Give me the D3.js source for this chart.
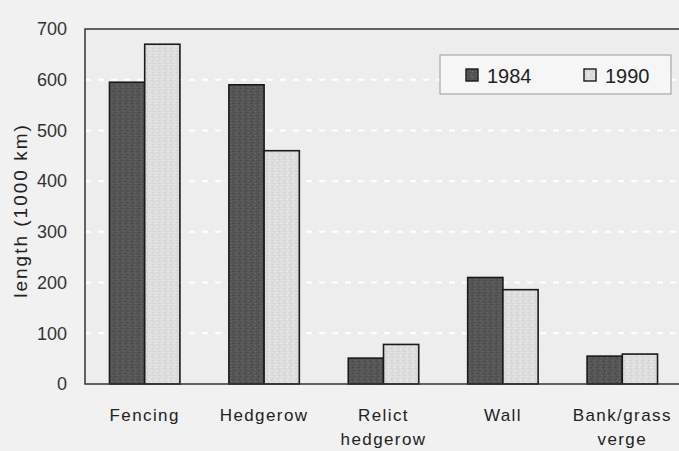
<!DOCTYPE html>
<html>
<head>
<meta charset="utf-8">
<script src="https://cdn.jsdelivr.net/npm/d3@7"></script>
<style>
  html, body { margin: 0; padding: 0; background: #f1f1f1; }
  svg { display: block; font-family: "Liberation Sans", Arial, sans-serif; }
</style>
</head>
<body>
<svg id="chart" width="679" height="451"></svg>
<script>
// Linear boundary lengths in Great Britain by feature type
const categories = [["Fencing"], ["Hedgerow"], ["Relict", "hedgerow"], ["Wall"], ["Bank/grass", "verge"]];
const seriesNames = ["1984", "1990"];
const values1984 = [595, 590, 51, 210, 55];
const values1990 = [670, 460, 78, 186, 59];
const yTicks = [0, 100, 200, 300, 400, 500, 600, 700];

const svg = d3.select("#chart");
const margin = { left: 85, right: -3, top: 29, bottom: 67 };
const W = 679, H = 451;
const innerW = W - margin.left - margin.right;
const innerH = H - margin.top - margin.bottom;

const fills = { "1984": "#555555", "1990": "#dedede" };

// speckled textures for the bar fills
const defs = svg.append("defs");
function speckle(id, base, dots) {
  const p = defs.append("pattern").attr("id", id).attr("patternUnits", "userSpaceOnUse")
    .attr("width", 6).attr("height", 6);
  p.append("rect").attr("width", 6).attr("height", 6).attr("fill", base);
  dots.forEach(([x, y, c]) => p.append("rect").attr("x", x).attr("y", y).attr("width", 1).attr("height", 1).attr("fill", c));
}
speckle("tex84", fills["1984"], [[1,1,"#6e6e6e"],[4,2,"#3e3e3e"],[2,4,"#707070"],[5,5,"#444"],[0,3,"#656565"]]);
speckle("tex90", fills["1990"], [[1,1,"#c4c4c4"],[4,2,"#f2f2f2"],[2,4,"#c8c8c8"],[5,5,"#ececec"],[0,3,"#cfcfcf"]]);

const g = svg.append("g").attr("transform", `translate(${margin.left},${margin.top})`);

const x0 = d3.scaleBand().domain(d3.range(categories.length)).range([0, innerW]).paddingInner(0.41).paddingOuter(0.205);
const x1 = d3.scaleBand().domain(seriesNames).range([0, x0.bandwidth()]);
const y = d3.scaleLinear().domain([0, 700]).range([innerH, 0]);

// plot background
g.append("rect").attr("width", innerW).attr("height", innerH).attr("fill", "#ededed");

// dashed white gridlines
g.append("g").selectAll("line").data(yTicks.filter(t => t > 0 && t < 700)).join("line")
  .attr("x1", 0).attr("x2", innerW)
  .attr("y1", d => y(d)).attr("y2", d => y(d))
  .attr("stroke", "#ffffff").attr("stroke-width", 2).attr("stroke-dasharray", "6,7");

// bars
const data = categories.map((c, i) => ({ i, vals: [values1984[i], values1990[i]] }));
const groups = g.append("g").selectAll("g").data(data).join("g")
  .attr("transform", d => `translate(${x0(d.i)},0)`);
groups.selectAll("rect").data(d => d.vals.map((v, k) => ({ key: seriesNames[k], v }))).join("rect")
  .attr("x", d => x1(d.key))
  .attr("y", d => y(d.v))
  .attr("width", x1.bandwidth())
  .attr("height", d => innerH - y(d.v))
  .attr("fill", d => d.key === "1984" ? "url(#tex84)" : "url(#tex90)")
  .attr("stroke", "#1a1a1a").attr("stroke-width", 1.6);

// frame
g.append("path")
  .attr("d", `M${innerW},0 H0 V${innerH} H${innerW}`)
  .attr("fill", "none").attr("stroke", "#333").attr("stroke-width", 1.5);

// y axis labels
const yAxis = d3.axisLeft(y).tickValues(yTicks).tickSize(0).tickPadding(18);
const ya = g.append("g").call(yAxis);
ya.select(".domain").remove();
ya.selectAll("text").attr("font-size", 18).attr("fill", "#333").attr("font-family", "Liberation Sans, Arial, sans-serif");

// y axis title
svg.append("text")
  .attr("transform", `translate(27,${margin.top + innerH / 2 + 4}) rotate(-90)`)
  .attr("text-anchor", "middle").attr("font-size", 19).attr("fill", "#222")
  .attr("letter-spacing", 2)
  .text("length (1000 km)");

// x category labels
const xl = svg.append("g").selectAll("text").data(categories).join("text")
  .attr("x", (d, i) => margin.left + x0(i) + x0.bandwidth() / 2)
  .attr("y", margin.top + innerH + 37)
  .attr("text-anchor", "middle").attr("font-size", 17).attr("fill", "#222")
  .attr("letter-spacing", 1.4);
xl.selectAll("tspan").data(d => d).join("tspan")
  .attr("x", function() { return this.parentNode.getAttribute("x"); })
  .attr("dy", (d, k) => k === 0 ? 0 : 24)
  .text(d => d);

// legend
const lg = svg.append("g").attr("transform", "translate(440,55)");
lg.append("rect").attr("width", 231).attr("height", 39).attr("fill", "#f6f6f6")
  .attr("stroke", "#999").attr("stroke-width", 1);
const items = [{ k: "1984", x: 26 }, { k: "1990", x: 144 }];
items.forEach(it => {
  lg.append("rect").attr("x", it.x).attr("y", 14).attr("width", 12).attr("height", 12)
    .attr("fill", it.k === "1984" ? "url(#tex84)" : "url(#tex90)")
    .attr("stroke", "#1a1a1a").attr("stroke-width", 1.4);
  lg.append("text").attr("x", it.x + 21).attr("y", 28).attr("font-size", 20).attr("fill", "#222")
    .text(it.k);
});
</script>
</body>
</html>
